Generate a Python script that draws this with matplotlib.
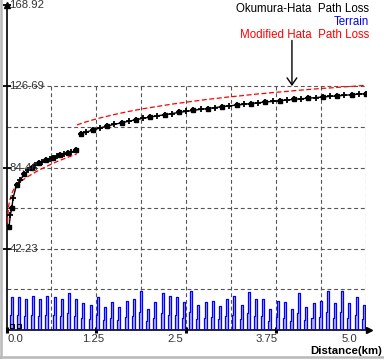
import numpy as np
import matplotlib
matplotlib.use("Agg")
import matplotlib.pyplot as plt
from matplotlib.lines import Line2D
from matplotlib.transforms import blended_transform_factory, ScaledTranslation

plt.rcParams['font.family'] = ['Liberation Sans', 'DejaVu Sans']

# ---------------- data ----------------
# Okumura-Hata path loss (black), two segments
hata1_d = [0.035, 0.055, 0.075, 0.09, 0.14, 0.19, 0.25, 0.30, 0.35, 0.40, 0.45,
           0.50, 0.55, 0.60, 0.65, 0.70, 0.75, 0.80, 0.85, 0.90, 0.97]
hata1_v = [53.7, 60.0, 63.5, 68.4, 75.4, 78.0, 81.0, 83.0, 84.0, 85.6, 86.7,
           87.5, 88.2, 88.8, 89.4, 90.2, 90.8, 91.3, 91.9, 92.5, 93.4]
hata2_d = [1.03, 1.1, 1.2, 1.3, 1.4, 1.5, 1.6, 1.7, 1.8, 1.9, 2.0, 2.1, 2.2, 2.3,
           2.4, 2.5, 2.6, 2.7, 2.8, 2.9, 3.0, 3.1, 3.2, 3.3, 3.4, 3.5, 3.6, 3.7,
           3.8, 3.9, 4.0, 4.1, 4.2, 4.3, 4.4, 4.5, 4.6, 4.7, 4.8, 4.9, 5.0]
hata2_v = [101.9, 102.8, 103.9, 105.0, 106.0, 106.9, 107.7, 108.5, 109.3, 110.0,
           110.7, 111.3, 111.9, 112.5, 113.1, 113.6, 114.2, 114.7, 115.1, 115.6,
           116.1, 116.5, 116.9, 117.3, 117.7, 118.1, 118.5, 118.8, 119.2, 119.5,
           119.9, 120.2, 120.5, 120.8, 121.1, 121.4, 121.7, 122.0, 122.3, 122.6,
           122.8]

# Modified Hata path loss (red), two segments
mod1_d = [0.01, 0.02, 0.03, 0.05, 0.08, 0.10, 0.15, 0.20, 0.30, 0.40, 0.50,
          0.60, 0.70, 0.80, 0.90, 0.98]
mod1_v = [52.0, 60.0, 64.5, 68.0, 71.5, 73.0, 75.5, 77.3, 79.8, 82.0, 84.0,
          85.8, 87.5, 89.0, 90.4, 91.6]
mod2_d = [0.98, 1.1, 1.2, 1.3, 1.4, 1.5, 1.6, 1.7, 1.8, 1.9, 2.0, 2.1, 2.2, 2.3,
          2.4, 2.5, 2.6, 2.7, 2.8, 2.9, 3.0, 3.1, 3.2, 3.3, 3.4, 3.5, 3.6, 3.7,
          3.8, 3.9, 4.0, 4.1, 4.2, 4.3, 4.4, 4.5, 4.6, 4.7, 4.8, 4.9, 5.0]
mod2_v = [106.6, 108.1, 109.2, 110.2, 111.1, 112.0, 112.8, 113.6, 114.3, 115.0,
          115.6, 116.2, 116.8, 117.4, 117.9, 118.4, 118.9, 119.4, 119.9, 120.3,
          120.7, 121.2, 121.5, 121.9, 122.3, 122.7, 123.0, 123.4, 123.7, 124.0,
          124.4, 124.7, 125.0, 125.3, 125.6, 125.8, 126.1, 126.4, 126.6, 126.9,
          127.2]

# Terrain peaks (blue)
terrain_d = np.round(0.07 + 0.1 * np.arange(50), 2)
terrain_h = [17.0, 17.0, 16.0, 17.8, 16.1, 17.8, 17.0, 16.1, 19.1, 16.0,
             14.2, 13.0, 17.0, 12.1, 14.4, 11.8, 15.2,
             16.1, 20.3, 10.9, 14.4, 19.1, 17.8, 17.0, 14.4, 20.3, 13.0,
             14.4, 15.1, 12.7, 16.1, 17.8, 13.0, 20.0,
             16.1, 16.1, 10.9, 15.1, 14.4, 10.9, 19.4, 12.1, 14.2, 15.1,
             20.3, 14.2, 20.3, 14.2, 17.0, 13.0]
origin_marks_d = [0.07, 0.18]
origin_marks_v = [2.0, 2.0]

y_ticks = [42.23, 84.46, 126.69, 168.92]
y_tick_labels = ["42.23", "84.46", "126.69", "168.92"]
x_ticks = [0.0, 1.25, 2.5, 3.75, 5.0]
x_tick_labels = ["0.0", "1.25", "2.5", "3.75", "5.0"]
x_label_centers = [0.12, 1.21, 2.35, 3.62, 4.77]

# ---------------- figure ----------------
W, H = 384, 361
fig = plt.figure(figsize=(W / 100, H / 100), dpi=100)
fig.patch.set_facecolor('white')
ax = fig.add_axes([6.5 / W, 31 / H, (366 - 6.5) / W, 325 / H])
ax.set_facecolor('white')
ax.set_xlim(0, 5.0)
ax.set_ylim(0, 168.92)

for s in ['top', 'right']:
    ax.spines[s].set_visible(False)
for s in ['left', 'bottom']:
    ax.spines[s].set_color('black')
    ax.spines[s].set_linewidth(1.2)

# grid (limited region)
gstep_y = y_ticks[0] / 2
gy = [gstep_y * k for k in range(1, 7)]
gx = [0.625 * k for k in range(1, 9)]
dash = dict(color='#555555', lw=0.8, linestyle=(0, (3.5, 2.5)), zorder=1)
ax.hlines(gy, 0, 5.0, **dash)
ax.vlines(gx, 0, y_ticks[2], **dash)

# terrain
for c, h in zip(terrain_d, terrain_h):
    w = 0.014
    xs = [c - 2 * w, c - 2 * w, c - w, c - w, c + w, c + w]
    ys = [0, h * 0.45, h * 0.45, h, h, 0]
    ax.fill(xs, ys, color='#b0b0ff', lw=0, zorder=2)
    ax.plot(xs, ys, color='#0000ff', lw=0.9, zorder=3)
ax.plot(origin_marks_d, origin_marks_v, 's', ms=3.5, mfc='none', mec='black',
        mew=0.8, zorder=4)

# modified hata (red dashed)
red_kw = dict(color='#ff0000', lw=0.9, linestyle=(0, (4, 2)), zorder=4)
ax.plot(mod1_d, mod1_v, **red_kw)
ax.plot(mod2_d, mod2_v, **red_kw)

# okumura hata (black)
for d, v in [(hata1_d, hata1_v), (hata2_d, hata2_v)]:
    ax.plot(d, v, color='black', lw=1.0, marker='+', ms=5, mew=1.3, zorder=5)
    ax.plot(d[::2], v[::2], linestyle='none', marker='s', ms=3, color='black',
            zorder=6)

# ticks
ax.set_yticks(y_ticks)
ax.set_yticklabels([])
ax.tick_params(axis='y', direction='inout', length=6, width=1.3, color='black')
ax.set_xticks(x_ticks[:-1])
ax.set_xticklabels([])
ax.tick_params(axis='x', direction='inout', length=5, width=2.2, color='black')

tr_y = blended_transform_factory(ax.transAxes, ax.transData)
for v, lab in zip(y_ticks, y_tick_labels):
    ax.text(0.008, v, lab, transform=tr_y, ha='left', va='center',
            fontsize=8.2, color='#333333', zorder=7)
off = ax.transData + ScaledTranslation(0, -9 / 100, fig.dpi_scale_trans)
for xc, lab in zip(x_label_centers, x_tick_labels):
    ax.text(xc, 0, lab, transform=off, ha='center', va='center',
            fontsize=8.2, color='#333333')

# axis arrows
ax.plot([0], [1], marker='^', ms=4, color='black', transform=ax.transAxes,
        clip_on=False, zorder=8)
ax.plot([1.008], [0], marker='>', ms=5, color='black', transform=ax.transAxes,
        clip_on=False, zorder=8)

# annotation arrow
ax.annotate('', xy=(3.97, 126.8), xytext=(3.97, 150.5),
            arrowprops=dict(arrowstyle='->,head_length=0.5,head_width=0.35',
                            color='black', lw=1.0, shrinkA=0, shrinkB=0))

# legend-like texts
fig.text(369 / W, 1 - 9 / H, "Okumura-Hata  Path Loss", ha='right', va='center',
         fontsize=8.3, color='black')
fig.text(369 / W, 1 - 22.3 / H, "Terrain", ha='right', va='center',
         fontsize=8.3, color='#0000ff')
fig.text(369 / W, 1 - 35.5 / H, "Modified Hata  Path Loss", ha='right',
         va='center', fontsize=8.3, color='#ff0000')

fig.text(382 / W, 1 - 351.5 / H, "Distance(km)", ha='right', va='center',
         fontsize=8.2, fontweight='bold', color='black')

# outer frame lines
fig.add_artist(Line2D([1 / W, 1 / W], [4 / H, 1], color='#b8b8b8', lw=1.8))
fig.add_artist(Line2D([0, 1], [4 / H, 4 / H], color='#b8b8b8', lw=1.8))

fig.savefig('out.png', dpi=100)
